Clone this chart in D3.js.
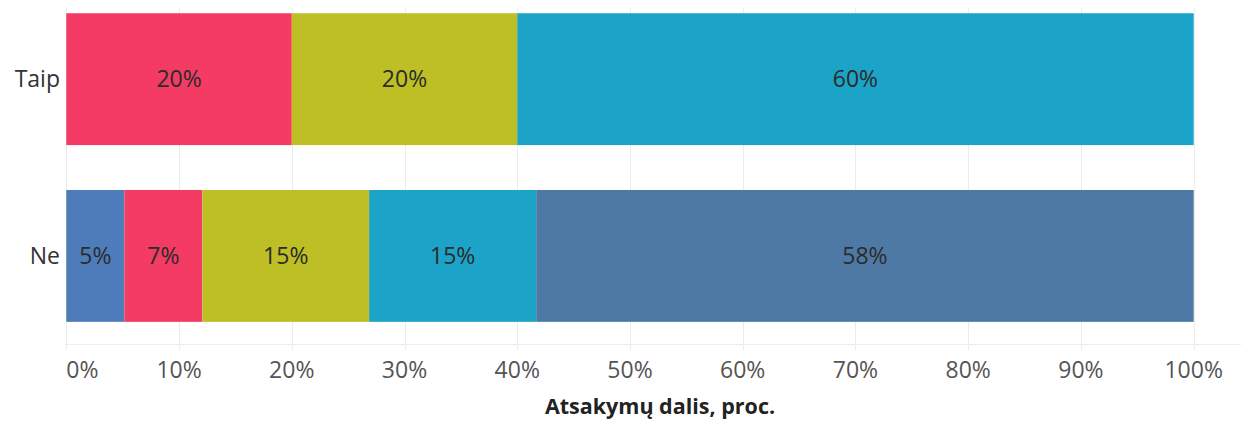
<!DOCTYPE html>
<html>
<head>
<meta charset="utf-8">
<script src="https://cdn.jsdelivr.net/npm/d3@7"></script>
<style>
  html, body { margin: 0; padding: 0; background: #fff; }
  svg { display: block; }
  text { font-family: "Open Sans", "Noto Sans", sans-serif; }
</style>
</head>
<body>
<svg id="chart" width="1241" height="421"></svg>
<script>
// ---- data ----
const categories = ["Taip", "Ne"];
const seriesKeys = ["s1", "s2", "s3", "s4", "s5"];
const s1 = [0, 5.15];
const s2 = [20.0, 6.92];
const s3 = [20.0, 14.79];
const s4 = [60.0, 14.82];
const s5 = [0, 58.32];
const seriesColors = ["#4E7CBA", "#F43B63", "#BDBF24", "#1CA4C8", "#4E79A5"];
const tickValues = [0, 10, 20, 30, 40, 50, 60, 70, 80, 90, 100];
const axisTitle = "Atsakymų dalis, proc.";

const seriesValues = [s1, s2, s3, s4, s5];
const rows = categories.map((c, i) => {
  const r = { cat: c };
  seriesKeys.forEach((k, j) => r[k] = seriesValues[j][i]);
  return r;
});

const svg = d3.select("#chart");
const x = d3.scaleLinear().domain([0, 100]).range([66.3, 1193.7]);
const y = d3.scaleBand().domain(categories).range([-9.2, 344.3])
  .paddingInner(0.254).paddingOuter(0.127);

// gridlines
svg.append("g").selectAll("line").data(tickValues).join("line")
  .attr("x1", d => Math.round(x(d)) + 0.5).attr("x2", d => Math.round(x(d)) + 0.5)
  .attr("y1", 8).attr("y2", 350)
  .attr("stroke", "#ececec").attr("stroke-width", 1);
svg.append("line")
  .attr("x1", 65).attr("x2", 1241).attr("y1", 344.5).attr("y2", 344.5)
  .attr("stroke", "#ececec").attr("stroke-width", 1);

// bars
const stacked = d3.stack().keys(seriesKeys)(rows);
const g = svg.append("g");
stacked.forEach((layer, li) => {
  layer.forEach(seg => {
    const w = x(seg[1]) - x(seg[0]);
    if (w <= 0.01) return;
    const cat = seg.data.cat;
    g.append("rect")
      .attr("x", x(seg[0])).attr("y", y(cat))
      .attr("width", w).attr("height", y.bandwidth())
      .attr("fill", seriesColors[li]);
    g.append("text")
      .attr("x", (x(seg[0]) + x(seg[1])) / 2)
      .attr("y", y(cat) + y.bandwidth() / 2)
      .attr("dy", "0.36em")
      .attr("text-anchor", "middle")
      .attr("font-size", 23)
      .attr("fill", "#2b2b2b")
      .text(Math.round(seg[1] - seg[0]) + "%");
  });
});

// category labels
svg.append("g").selectAll("text").data(categories).join("text")
  .attr("x", 60).attr("y", d => y(d) + y.bandwidth() / 2)
  .attr("dy", "0.36em").attr("text-anchor", "end")
  .attr("font-size", 23).attr("fill", "#333")
  .text(d => d);

// x axis tick labels
svg.append("g").selectAll("text").data(tickValues).join("text")
  .attr("x", d => x(d))
  .attr("y", 378)
  .attr("text-anchor", d => d === 0 ? "start" : "middle")
  .attr("font-size", 23).attr("fill", "#555")
  .text(d => d + "%");

// axis title
svg.append("text")
  .attr("x", 660).attr("y", 414)
  .attr("text-anchor", "middle")
  .attr("font-size", 21.5).attr("font-weight", "bold").attr("fill", "#222")
  .text(axisTitle);
</script>
</body>
</html>
